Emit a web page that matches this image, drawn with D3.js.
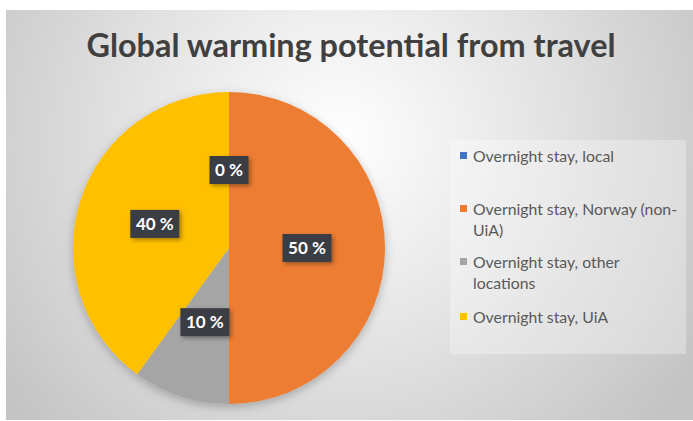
<!DOCTYPE html>
<html lang="en">
<head>
    <meta charset="UTF-8">
    <title>Global warming potential from travel</title>
    <style>
        body { margin: 0; background: #fff; }
        #chart { display: block; }
        text { font-family: Lato, "Open Sans", sans-serif; }
    </style>
</head>
<body>
<svg id="chart"></svg>
<script src="https://cdn.jsdelivr.net/npm/d3@7"></script>
<script>
    var categories = ["Overnight stay, local", "Overnight stay, Norway (non-UiA)", "Overnight stay, other locations", "Overnight stay, UiA"];
    var values = [0, 50, 10, 40];
    var colors = ["#4472C4", "#ED7D31", "#A5A5A5", "#FFC000"];
    // legend lines as wrapped in the picture
    var legendLines = [["Overnight stay, local"], ["Overnight stay, Norway (non-", "UiA)"], ["Overnight stay, other", "locations"], ["Overnight stay, UiA"]];
    var title = "Global warming potential from travel";

    (function () {
        var width = 693, height = 421;
        var svg = d3.select("#chart").attr("width", width).attr("height", height);
        var defs = svg.append("defs");

        var bg = defs.append("radialGradient").attr("id", "bg")
            .attr("gradientUnits", "userSpaceOnUse")
            .attr("cx", 340).attr("cy", 140).attr("r", 420);
        bg.append("stop").attr("offset", "0").attr("stop-color", "#ffffff");
        bg.append("stop").attr("offset", "0.45").attr("stop-color", "#e6e6e6");
        bg.append("stop").attr("offset", "1").attr("stop-color", "#c4c4c4");

        var sh = defs.append("filter").attr("id", "shadow")
            .attr("x", "-20%").attr("y", "-20%").attr("width", "140%").attr("height", "140%");
        sh.append("feDropShadow").attr("dx", 2).attr("dy", 2).attr("stdDeviation", 2)
            .attr("flood-color", "#000").attr("flood-opacity", 0.35);

        var psh = defs.append("filter").attr("id", "pieshadow")
            .attr("x", "-20%").attr("y", "-20%").attr("width", "140%").attr("height", "140%");
        psh.append("feDropShadow").attr("dx", 0).attr("dy", 3).attr("stdDeviation", 5)
            .attr("flood-color", "#000").attr("flood-opacity", 0.25);

        svg.append("rect").attr("x", 6).attr("y", 10).attr("width", 687).attr("height", 410)
            .attr("fill", "url(#bg)");

        svg.append("text").attr("x", 351).attr("y", 57)
            .attr("text-anchor", "middle")
            .attr("font-size", 32).attr("font-weight", "bold")
            .attr("fill", "#404040")
            .attr("textLength", 529).attr("lengthAdjust", "spacingAndGlyphs")
            .text(title);

        var cx = 229, cy = 248, r = 156;
        var pie = d3.pie().sort(null).value(function (d) { return d; });
        var arcs = pie(values);
        var arc = d3.arc().innerRadius(0).outerRadius(r);
        var labelArc = d3.arc().innerRadius(156).outerRadius(0);

        var g = svg.append("g").attr("transform", "translate(" + cx + "," + cy + ")");
        g.append("g").attr("filter", "url(#pieshadow)")
            .selectAll("path")
            .data(arcs)
            .enter()
            .append("path")
            .attr("d", arc)
            .attr("fill", function (d, i) { return colors[i]; });

        var labels = g.selectAll("g.lbl")
            .data(arcs)
            .enter()
            .append("g")
            .attr("class", "lbl")
            .attr("transform", function (d) {
                var c = labelArc.centroid(d);
                return "translate(" + c[0] + "," + c[1] + ")";
            });
        labels.each(function (d) {
            var sel = d3.select(this);
            var txt = d.data + " %";
            var w = txt.length > 3 ? 49 : 39;
            sel.append("rect").attr("x", -w / 2).attr("y", -14).attr("width", w).attr("height", 28)
                .attr("fill", "#3a3e44").attr("filter", "url(#shadow)");
            sel.append("text").attr("text-anchor", "middle").attr("y", 6)
                .attr("font-size", 17).attr("font-weight", "bold").attr("fill", "#fff")
                .text(txt);
        });

        // legend
        svg.append("rect").attr("x", 450).attr("y", 140).attr("width", 236).attr("height", 214)
            .attr("fill", "#ffffff").attr("fill-opacity", 0.3);

        var itemY = [157, 210, 263, 318];
        var lg = svg.append("g");
        legendLines.forEach(function (lines, i) {
            lg.append("rect").attr("x", 460).attr("y", itemY[i] - 5).attr("width", 7).attr("height", 7)
                .attr("fill", colors[i]);
            lines.forEach(function (line, j) {
                lg.append("text").attr("x", 473).attr("y", itemY[i] + 5 + j * 21)
                    .attr("font-size", 15.8).attr("fill", "#595959")
                    .text(line);
            });
        });
    })();
</script>
</body>
</html>
